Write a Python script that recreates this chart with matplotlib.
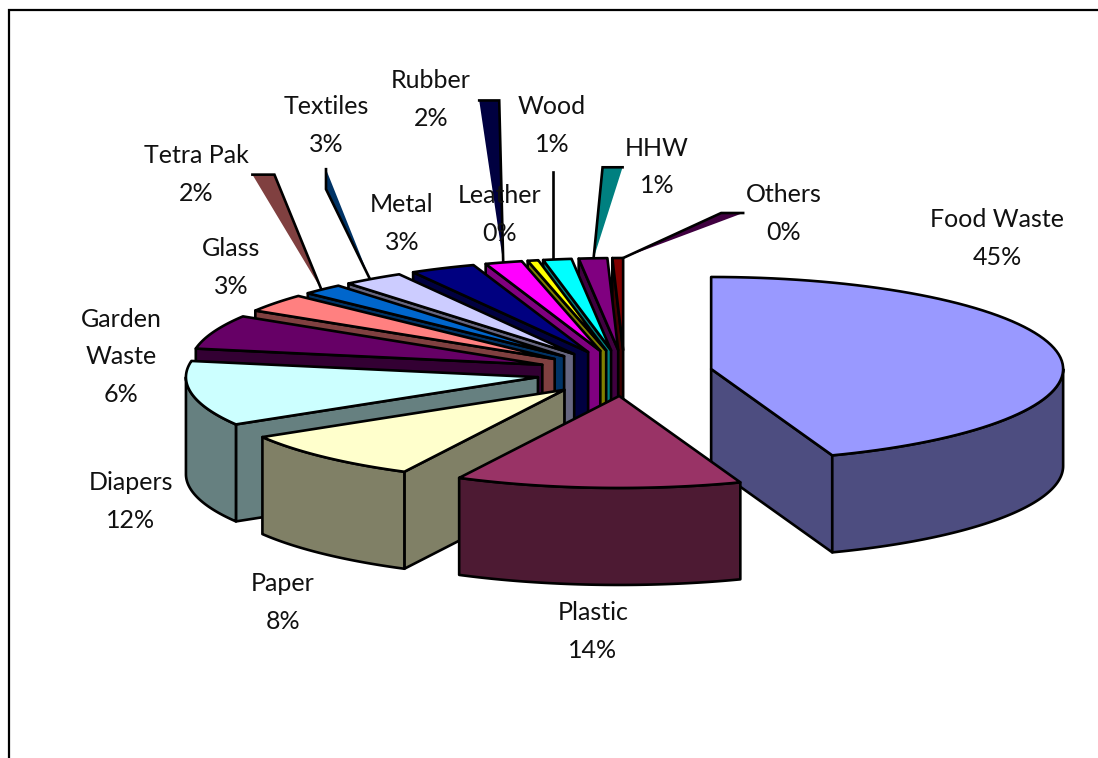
import numpy as np
import matplotlib
matplotlib.use("Agg")
import matplotlib.pyplot as plt
from matplotlib.patches import Polygon
from matplotlib.colors import to_rgb

plt.rcParams['font.family'] = ['Lato', 'DejaVu Sans']

# ---- data ----
categories = ["Food Waste", "Plastic", "Paper", "Diapers", "Garden\nWaste", "Glass", "Tetra Pak",
              "Textiles", "Metal", "Rubber", "Leather", "Wood", "HHW", "Others"]
shares = [44.4, 13.1, 8.9, 11.4, 6.0, 3.2, 1.9, 2.8, 3.0, 1.7, 0.49, 1.3, 1.3, 0.49]
pct_labels = ["45%", "14%", "8%", "12%", "6%", "3%", "2%", "3%", "3%", "2%", "0%", "1%", "1%", "0%"]
top_colors = ["#9999FF", "#993366", "#FFFFCC", "#CCFFFF", "#660066", "#FF8080", "#0066CC",
              "#CCCCFF", "#000080", "#FF00FF", "#FFFF00", "#00FFFF", "#800080", "#800000"]

# ---- layout ----
CX, CY = 624.5, 373    # pie centre before explosion
RX, RY = 352, 92       # ellipse radii of the tilted pie
DEPTH = 97             # extrusion height
EXPLODE = 0.25
LW = 1.9

label_xy = [(997, 238.5), (593, 631.5), (283, 602.5), (131, 501.5), (121, 357), (231, 267.5), (196, 174.5),
            (326, 125.5), (402, 223.5), (431, 99.5), (500, 214.5), (552, 125.5), (657, 167), (784, 213.5)]

# stray side-wall slivers:
# slice index -> (position along rim, near dx, near rise, far dx, far rise, slice giving the colour)
slivers = {
    6:  (0.46, -47, 115, -69, 115, 5),
    7:  (0.44, -44, 90, -44, 110, 6),
    9:  (0.49, -4, 162, -24, 162, 8),
    11: (0.35, 0, 88, 0, 88, 11),
    12: (0.52, 9, 91, 29, 91, 11),
    13: (1.00, 98, 45, 120, 45, 12),
}

fig = plt.figure(figsize=(10.98, 7.58), dpi=100, facecolor="white")
ax = fig.add_axes([0, 0, 1, 1])
ax.set_xlim(0, 1098)
ax.set_ylim(758, 0)
ax.axis("off")


def wall_color(c):
    return tuple(v * 0.5 for v in to_rgb(c))


def rim(apex, t):
    """t in degrees clockwise from 12 o'clock."""
    r = np.radians(t)
    return np.column_stack([apex[0] + RX * np.sin(r), apex[1] - RY * np.cos(r)])


def poly(pts, fc, z, ec="black"):
    ax.add_patch(Polygon(pts, closed=True, facecolor=fc, edgecolor=ec, linewidth=LW,
                         joinstyle="round", zorder=z))


edges = np.concatenate([[0], np.cumsum(shares)]) / np.sum(shares) * 360.0

# Painter's order: the big front slice on the right first, then the fan from back to front
order = [0] + list(range(len(shares) - 1, 0, -1))
apexes = {}
for z, i in enumerate(order):
    a0, a1 = edges[i], edges[i + 1]
    mid = np.radians((a0 + a1) / 2)
    apex = (CX + EXPLODE * RX * np.sin(mid), CY - EXPLODE * RY * np.cos(mid))
    apexes[i] = apex
    arc = rim(apex, np.linspace(a0, a1, 80))
    down = np.array([0, DEPTH])
    ap = np.array(apex)
    top = top_colors[i]
    side = wall_color(top)
    zz = 2 + z * 0.1
    if a1 <= 180:          # visible cut face on the end side
        poly([ap, arc[-1], arc[-1] + down, ap + down], side, zz)
    if a0 >= 180:          # visible cut face on the start side
        poly([ap, arc[0], arc[0] + down, ap + down], side, zz + 0.01)
    w0, w1 = max(a0, 90), min(a1, 270)
    if w1 > w0:            # outer wall, only where it faces the viewer
        warc = rim(apex, np.linspace(w0, w1, 80))
        poly(np.vstack([warc, (warc + down)[::-1]]), side, zz + 0.02)
    poly(np.vstack([ap, arc]), top, zz + 0.03)

# slivers behind the fan, rising from the rim of their slice
for i, (frac, ndx, nrise, fdx, frise, src) in slivers.items():
    base = rim(apexes[i], edges[i] + frac * (edges[i + 1] - edges[i]))[0]
    near = base + (ndx, -nrise)
    far = base + (fdx, -frise)
    ax.add_patch(Polygon([base, near, far], closed=True, facecolor=wall_color(top_colors[src]),
                         edgecolor="none", zorder=1.5))
    ax.plot(*np.array([base, near, far]).T, color="black", lw=LW, zorder=1.6,
            solid_joinstyle="miter")

# chart frame (open at right and bottom edges of the crop)
ax.plot([9, 9, 1098], [758, 10, 10], color="black", lw=1.6, zorder=1, solid_joinstyle="miter")

for name, pct, (x, y) in zip(categories, pct_labels, label_xy):
    ax.text(x, y, f"{name}\n{pct}", ha="center", va="center", fontsize=18, color="#111111",
            linespacing=1.76, zorder=10)

fig.savefig("out.png", dpi=100, facecolor="white")
